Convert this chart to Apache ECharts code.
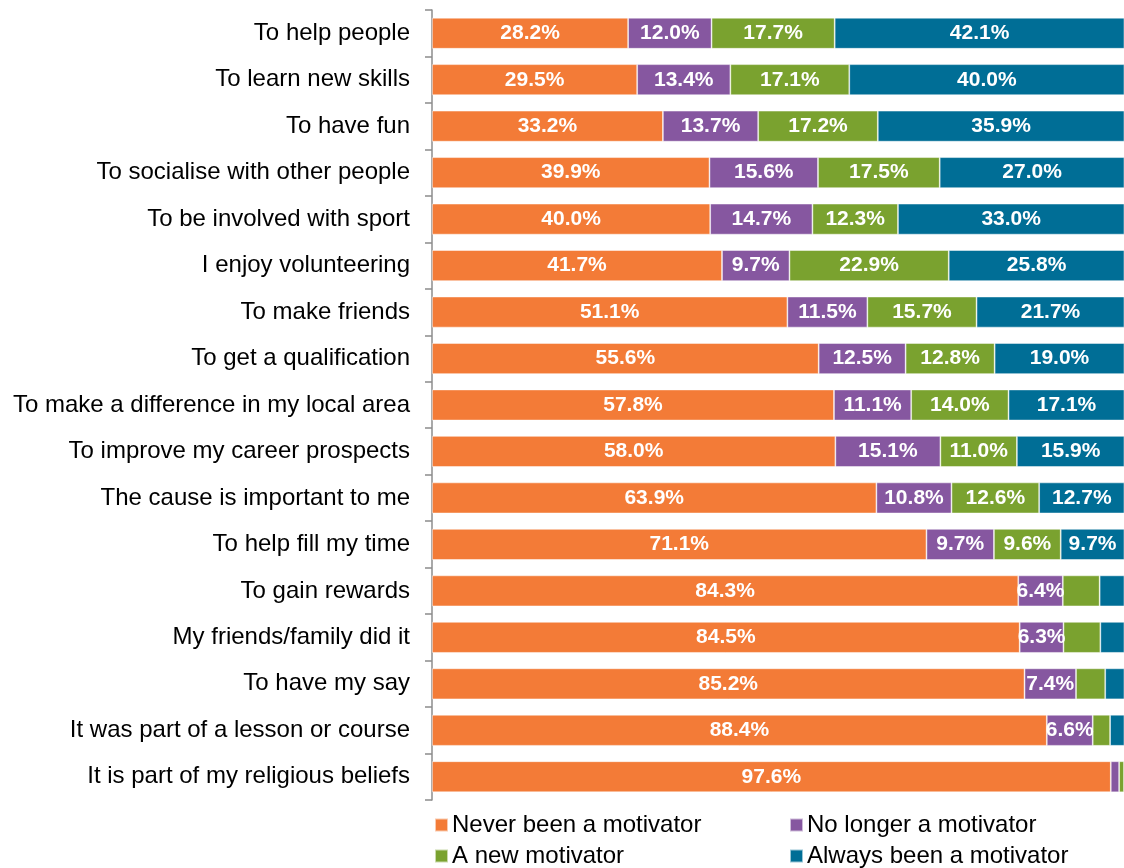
<!DOCTYPE html>
<html><head><meta charset="utf-8">
<script src="https://cdn.jsdelivr.net/npm/echarts@6/dist/echarts.min.js"></script>
<style>html,body{margin:0;padding:0;background:#fff}#c{width:1124px;height:868px}</style>
</head><body><div id="c"></div>
<script>
const categories = ["To help people","To learn new skills","To have fun","To socialise with other people","To be involved with sport","I enjoy volunteering","To make friends","To get a qualification","To make a difference in my local area","To improve my career prospects","The cause is important to me","To help fill my time","To gain rewards","My friends/family did it","To have my say","It was part of a lesson or course","It is part of my religious beliefs"];
const seriesNames = ["Never been a motivator","No longer a motivator","A new motivator","Always been a motivator"];
const neverVals = [28.2,29.5,33.2,39.9,40.0,41.7,51.1,55.6,57.8,58.0,63.9,71.1,84.3,84.5,85.2,88.4,97.6];
const noLongerVals = [12.0,13.4,13.7,15.6,14.7,9.7,11.5,12.5,11.1,15.1,10.8,9.7,6.4,6.3,7.4,6.6,1.2];
const newVals = [17.7,17.1,17.2,17.5,12.3,22.9,15.7,12.8,14.0,11.0,12.6,9.6,5.3,5.3,4.2,2.5,0.7];
const alwaysVals = [42.1,40.0,35.9,27.0,33.0,25.8,21.7,19.0,17.1,15.9,12.7,9.7,4.0,3.9,3.2,2.5,0.5];
const colors = ["#F37B37","#8657A0","#7AA22F","#006E96"];

const allVals = [neverVals,noLongerVals,newVals,alwaysVals];
const FONT = '"Liberation Sans", Arial, sans-serif';
const legendPos = [[434,813],[789,813],[434,844],[789,844]];
const chart = echarts.init(document.getElementById('c'));
chart.setOption({
  animation:false,
  textStyle:{fontFamily:FONT},
  grid:{left:432,right:0,top:10,bottom:68,containLabel:false},
  xAxis:{type:'value',min:0,max:99.5,show:false},
  yAxis:{type:'category',data:categories,inverse:true,
    axisLine:{lineStyle:{color:'#8c8c8c',width:1.5}},
    axisTick:{show:true,length:7,lineStyle:{color:'#8c8c8c',width:1.5}},
    axisLabel:{fontSize:24,color:'#000',margin:22,fontFamily:FONT,padding:[3,0,0,0]}},
  legend: seriesNames.map((n,i)=>({
    left:legendPos[i][0],top:legendPos[i][1],padding:0,itemWidth:13,itemHeight:13,icon:'rect',
    data:[n],textStyle:{fontSize:24,color:'#000',fontFamily:FONT,padding:[0,0,0,-1]}
  })),
  series: seriesNames.map((n,i)=>({
    name:n,type:'bar',stack:'all',data:allVals[i],barWidth:31,
    itemStyle:{color:colors[i],borderColor:'rgba(255,255,255,0.6)',borderWidth:0.8},
    label:{show:true,position:'inside',color:'#fff',fontWeight:'bold',fontSize:21,fontFamily:FONT,
      formatter:p=>p.value>=6?p.value.toFixed(1)+'%':''}
  }))
});
</script></body></html>
